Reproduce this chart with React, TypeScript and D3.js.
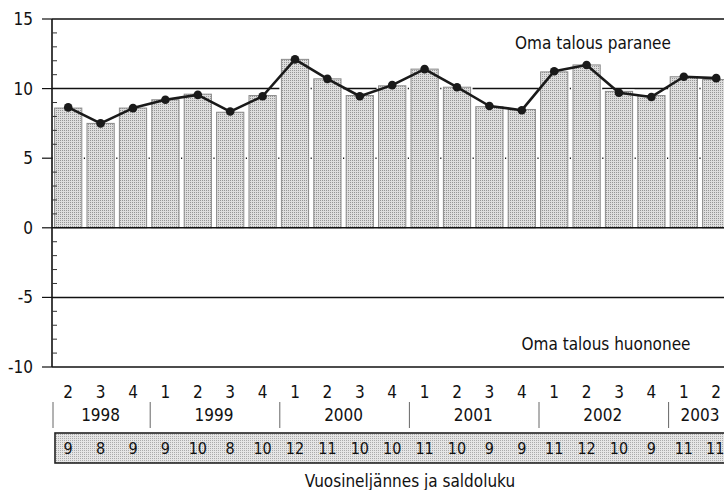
import React, { useEffect, useRef } from 'react';
import * as d3 from 'd3';

// quarter + year for each bar
const quarters = [2, 3, 4, 1, 2, 3, 4, 1, 2, 3, 4, 1, 2, 3, 4, 1, 2, 3, 4, 1, 2];
const years = [1998, 1998, 1998, 1999, 1999, 1999, 1999, 2000, 2000, 2000, 2000, 2001, 2001, 2001, 2001, 2002, 2002, 2002, 2002, 2003, 2003];

// bar heights and line values (saldoluku)
const barValues = [8.6, 7.5, 8.6, 9.2, 9.6, 8.3, 9.5, 12.1, 10.7, 9.5, 10.2, 11.4, 10.1, 8.7, 8.5, 11.2, 11.7, 9.8, 9.5, 10.85, 10.65];
const lineValues = [8.65, 7.5, 8.6, 9.2, 9.55, 8.35, 9.45, 12.1, 10.7, 9.45, 10.25, 11.4, 10.1, 8.75, 8.45, 11.25, 11.7, 9.7, 9.4, 10.85, 10.75];
const saldo = [9, 8, 9, 9, 10, 8, 10, 12, 11, 10, 10, 11, 10, 9, 9, 11, 12, 10, 9, 11, 11];

const yTicks = [15, 10, 5, 0, -5, -10];
const gridValues = [10, 5, -5];

const FONT = "'Liberation Sans Narrow', 'DejaVu Sans Condensed', 'Roboto', sans-serif";

const App: React.FC = () => {
  const svgRef = useRef<SVGSVGElement>(null);

  useEffect(() => {
    if (!svgRef.current) return;
    const svg = d3.select(svgRef.current);
    svg.selectAll('*').remove();

    const left = 52;
    const step = 32.4;
    const right = left + quarters.length * step;

    const x = d3.scaleBand<number>()
      .domain(d3.range(quarters.length))
      .range([left, right])
      .paddingInner(0.16)
      .paddingOuter(0.08);

    const y = d3.scaleLinear().domain([-10, 15]).range([367, 19]);

    // stipple pattern
    const defs = svg.append('defs');
    const pat = defs.append('pattern')
      .attr('id', 'stipple')
      .attr('patternUnits', 'userSpaceOnUse')
      .attr('width', 2)
      .attr('height', 2);
    pat.append('rect').attr('width', 2).attr('height', 2).attr('fill', '#dedede');
    pat.append('rect').attr('width', 1).attr('height', 1).attr('fill', '#969696');

    const pat2 = defs.append('pattern')
      .attr('id', 'stipple2')
      .attr('patternUnits', 'userSpaceOnUse')
      .attr('width', 2)
      .attr('height', 2);
    pat2.append('rect').attr('width', 2).attr('height', 2).attr('fill', '#e6e6e6');
    pat2.append('rect').attr('width', 1).attr('height', 1).attr('fill', '#ababab');

    // gridlines behind bars
    svg.append('g')
      .selectAll('line')
      .data(gridValues)
      .enter()
      .append('line')
      .attr('x1', left)
      .attr('x2', 724)
      .attr('y1', d => y(d))
      .attr('y2', d => y(d))
      .attr('stroke', '#111')
      .attr('stroke-width', 1.5);

    // frame top/bottom
    [15, -10].forEach(v => {
      svg.append('line')
        .attr('x1', left).attr('x2', 724)
        .attr('y1', y(v)).attr('y2', y(v))
        .attr('stroke', '#111').attr('stroke-width', 1.6);
    });

    // bars (white halo then gray edge)
    const bars = svg.append('g');
    bars.selectAll('rect.halo')
      .data(barValues)
      .enter()
      .append('rect')
      .attr('class', 'halo')
      .attr('x', (d, i) => x(i) || 0)
      .attr('y', d => y(d))
      .attr('width', x.bandwidth())
      .attr('height', d => y(0) - y(d))
      .attr('fill', 'none')
      .attr('stroke', '#fff')
      .attr('stroke-width', 4);
    bars.selectAll('rect.bar')
      .data(barValues)
      .enter()
      .append('rect')
      .attr('class', 'bar')
      .attr('x', (d, i) => x(i) || 0)
      .attr('y', d => y(d))
      .attr('width', x.bandwidth())
      .attr('height', d => y(0) - y(d))
      .attr('fill', 'url(#stipple)')
      .attr('stroke', '#8a8a8a')
      .attr('stroke-width', 1);

    // zero line
    svg.append('line')
      .attr('x1', left).attr('x2', 724)
      .attr('y1', y(0)).attr('y2', y(0))
      .attr('stroke', '#111').attr('stroke-width', 1.6);

    // y axis
    svg.append('line')
      .attr('x1', left).attr('x2', left)
      .attr('y1', y(15)).attr('y2', y(-10))
      .attr('stroke', '#111').attr('stroke-width', 1.6);

    svg.append('g')
      .selectAll('line')
      .data(d3.range(-10, 16).filter(v => v % 5 !== 0))
      .enter()
      .append('line')
      .attr('x1', left).attr('x2', left + 5)
      .attr('y1', d => y(d)).attr('y2', d => y(d))
      .attr('stroke', '#333').attr('stroke-width', 1);

    const yt = svg.append('g');
    yt.selectAll('line')
      .data(yTicks)
      .enter()
      .append('line')
      .attr('x1', left - 10).attr('x2', left)
      .attr('y1', d => y(d)).attr('y2', d => y(d))
      .attr('stroke', '#111').attr('stroke-width', 1.2);
    yt.selectAll('text')
      .data(yTicks)
      .enter()
      .append('text')
      .attr('x', 33)
      .attr('y', d => y(d))
      .attr('dy', '0.35em')
      .attr('text-anchor', 'end')
      .attr('font-size', '17px')
      .attr('font-family', FONT)
      .attr('fill', '#111')
      .text(d => d);

    // line + dots
    const line = d3.line<number>()
      .x((d, i) => (x(i) || 0) + x.bandwidth() / 2)
      .y(d => y(d));
    svg.append('path')
      .datum(lineValues)
      .attr('d', line)
      .attr('fill', 'none')
      .attr('stroke', '#1a1a1a')
      .attr('stroke-width', 2.6)
      .attr('stroke-linejoin', 'round');
    svg.append('g')
      .selectAll('circle')
      .data(lineValues)
      .enter()
      .append('circle')
      .attr('cx', (d, i) => (x(i) || 0) + x.bandwidth() / 2)
      .attr('cy', d => y(d))
      .attr('r', 4.3)
      .attr('fill', '#1a1a1a');

    // annotations
    svg.append('text')
      .attr('x', 593).attr('y', 43).attr('dy', '0.35em')
      .attr('text-anchor', 'middle')
      .attr('font-size', '17px').attr('font-family', FONT).attr('fill', '#111')
      .text('Oma talous paranee');
    svg.append('text')
      .attr('x', 606).attr('y', 344).attr('dy', '0.35em')
      .attr('text-anchor', 'middle')
      .attr('font-size', '17px').attr('font-family', FONT).attr('fill', '#111')
      .text('Oma talous huononee');

    // quarter labels
    svg.append('g')
      .selectAll('text')
      .data(quarters)
      .enter()
      .append('text')
      .attr('x', (d, i) => (x(i) || 0) + x.bandwidth() / 2)
      .attr('y', 392).attr('dy', '0.35em')
      .attr('text-anchor', 'middle')
      .attr('font-size', '17px').attr('font-family', FONT).attr('fill', '#111')
      .text(d => d);

    // year groups
    const yearGroups = d3.groups(d3.range(quarters.length), i => years[i]);
    const sep = svg.append('g');
    yearGroups.forEach(([yr, idx]) => {
      const x0 = (x(idx[0]) || 0) - (x.step() - x.bandwidth()) / 2;
      const xc = d3.mean(idx, i => (x(i) || 0) + x.bandwidth() / 2) || 0;
      sep.append('line')
        .attr('x1', x0 + 1).attr('x2', x0 + 1)
        .attr('y1', 402).attr('y2', 428)
        .attr('stroke', '#666').attr('stroke-width', 1);
      sep.append('text')
        .attr('x', xc).attr('y', 415).attr('dy', '0.35em')
        .attr('text-anchor', 'middle')
        .attr('font-size', '17px').attr('font-family', FONT).attr('fill', '#111')
        .text(yr);
    });

    // saldoluku row
    svg.append('rect')
      .attr('x', 55).attr('y', 433)
      .attr('width', right - 55).attr('height', 30)
      .attr('fill', 'url(#stipple2)')
      .attr('stroke', '#222').attr('stroke-width', 1.6);
    svg.append('g')
      .selectAll('text')
      .data(saldo)
      .enter()
      .append('text')
      .attr('x', (d, i) => (x(i) || 0) + x.bandwidth() / 2 - (i === saldo.length - 1 ? 1 : 0))
      .attr('y', 448).attr('dy', '0.35em')
      .attr('text-anchor', 'middle')
      .attr('font-size', '16px').attr('font-family', FONT).attr('fill', '#111')
      .text(d => d);

    svg.append('text')
      .attr('x', 410).attr('y', 481).attr('dy', '0.35em')
      .attr('text-anchor', 'middle')
      .attr('font-size', '17px').attr('font-family', FONT).attr('fill', '#111')
      .text('Vuosineljännes ja saldoluku');
  }, []);

  return (
    <svg
      ref={svgRef}
      width={724}
      height={490}
      style={{ position: 'absolute', left: 0, top: 0, background: '#fff' }}
    />
  );
};

export default App;
